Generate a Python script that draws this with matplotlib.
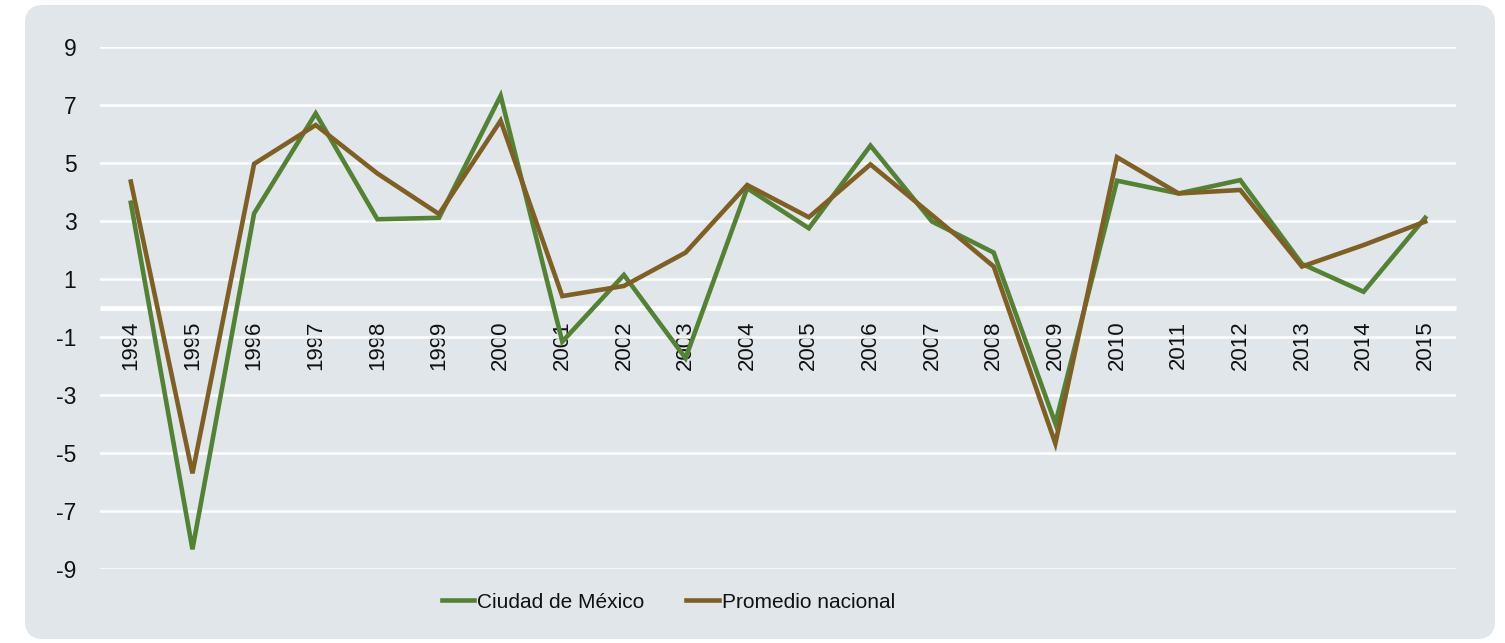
import matplotlib
matplotlib.use("Agg")
import matplotlib.pyplot as plt
from matplotlib.patches import FancyBboxPatch

years = ["1994", "1995", "1996", "1997", "1998", "1999", "2000", "2001", "2002", "2003", "2004",
         "2005", "2006", "2007", "2008", "2009", "2010", "2011", "2012", "2013", "2014", "2015"]
cdmx = [3.63, -8.32, 3.26, 6.71, 3.06, 3.11, 7.32, -1.16, 1.14, -1.73, 4.13,
        2.75, 5.60, 2.98, 1.91, -3.98, 4.39, 3.95, 4.41, 1.52, 0.56, 3.11]
nacional = [4.36, -5.70, 4.97, 6.31, 4.64, 3.24, 6.46, 0.41, 0.76, 1.91, 4.24,
            3.13, 4.95, 3.20, 1.43, -4.67, 5.20, 3.95, 4.07, 1.43, 2.17, 2.98]
yticks = [-9, -7, -5, -3, -1, 1, 3, 5, 7, 9]
series_names = ["Ciudad de México", "Promedio nacional"]

W, H = 1505, 643
BG = "#E1E6EA"
GREEN = "#548235"
BROWN = "#7F6024"
TXT = "#111111"
FONT = ["Liberation Sans", "DejaVu Sans"]

plt.rcParams["font.family"] = FONT

fig = plt.figure(figsize=(W / 100, H / 100), dpi=100)
fig.patch.set_facecolor("white")

bg = FancyBboxPatch((25 / W, 4 / H), (1495 - 25) / W, (638 - 4) / H,
                    boxstyle="round,pad=0,rounding_size=0.012",
                    transform=fig.transFigure, facecolor=BG, edgecolor="none",
                    mutation_aspect=W / H, zorder=0)
fig.patches.append(bg)

ax = fig.add_axes([100 / W, (H - 569) / H, 1356 / W, 522 / H])
ax.set_zorder(2)
ax.set_facecolor("none")

x = list(range(len(years)))
l1, = ax.plot(x, cdmx, color=GREEN, lw=3.3, solid_joinstyle="miter", zorder=3)
l2, = ax.plot(x, nacional, color=BROWN, lw=3.3, solid_joinstyle="miter", zorder=4)

ax.set_xlim(-0.5, len(years) - 0.5)
ax.set_ylim(-9, 9)
ax.set_yticks(yticks)
ax.set_yticklabels([str(v) for v in yticks])
ax.yaxis.grid(True, color="white", lw=1.8)
ax.set_axisbelow(True)

for s in ["top", "right", "left"]:
    ax.spines[s].set_visible(False)
ax.spines["bottom"].set_position(("data", 0))
ax.spines["bottom"].set_color("white")
ax.spines["bottom"].set_linewidth(3.5)
ax.spines["bottom"].set_capstyle("butt")
ax.spines["bottom"].set_zorder(1)

ax.set_xticks(x)
ax.set_xticklabels(years, rotation=90, va="top", ha="center")
ax.tick_params(axis="x", length=0, pad=9, labelsize=16, colors=TXT)
ax.tick_params(axis="y", length=0, pad=17, labelsize=16.5, colors=TXT)

leg = fig.legend([l1, l2], series_names, loc="center left",
                 bbox_to_anchor=(442 / W, 1 - 602 / H), ncol=2, frameon=False,
                 fontsize=15, borderpad=0, borderaxespad=0,
                 handlelength=1.55, handletextpad=0.15, columnspacing=2.0)
leg.set_zorder(5)
for t in leg.get_texts():
    t.set_color(TXT)

fig.savefig("out.png", dpi=100, facecolor="white")
